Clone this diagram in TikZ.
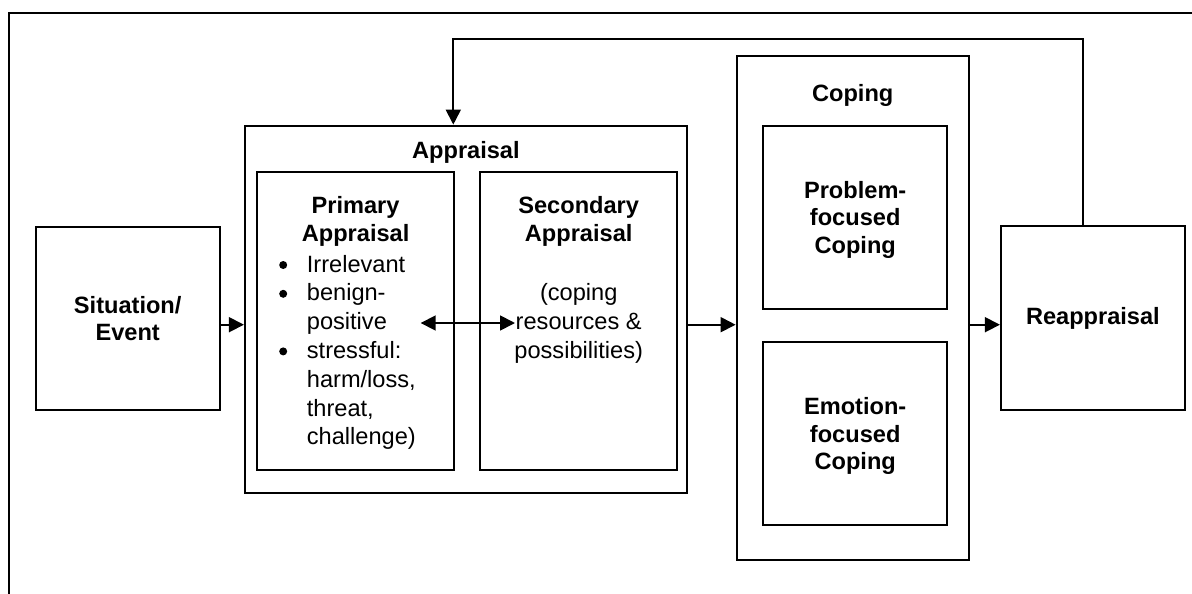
\documentclass[tikz,border=0pt]{standalone}
\usepackage{fontspec}
\setmainfont{Liberation Sans}
\usetikzlibrary{arrows.meta}
\newcommand\mylines[1]{\begin{tabular}[t]{@{}c@{}}#1\end{tabular}}
\newcommand\myleft[1]{\begin{tabular}[t]{@{}l@{}}#1\end{tabular}}
\newcommand\bul{\makebox[27.7pt][l]{\raisebox{3pt}{\tikz\fill (0,0) circle (4pt);}}}
\newcommand\ind{\hspace*{27.7pt}}
\begin{document}
\begin{tikzpicture}[x=1pt,y=-1pt,
  box/.style={draw, line width=2.2pt, inner sep=0pt},
  ttl/.style={inner sep=0pt, anchor=base, font=\bfseries\fontsize{23.6}{27.5}\selectfont},
  reg/.style={inner sep=0pt, anchor=base, font=\fontsize{23.6}{28.8}\selectfont},
  arr/.style={line width=1.8pt, -{Triangle[length=15pt,width=15pt]}},
  darr/.style={line width=1.8pt, {Triangle[length=15pt,width=15pt]}-{Triangle[length=15pt,width=15pt]}},
]
\fill[white] (0,0) rectangle (1192,594);
\useasboundingbox (0,0) rectangle (1192,594);
\draw[line width=1.8pt] (9,594) -- (9,12.7) -- (1192,12.7);

% boxes
\node[box, minimum width=184pt, minimum height=183.3pt] (sit) at (127.7,318.35) {};
\node[box, minimum width=441.7pt, minimum height=367.3pt] (app) at (465.85,309.35) {};
\node[box, minimum width=197.3pt, minimum height=298pt] (prim) at (355.65,320.7) {};
\node[box, minimum width=197.3pt, minimum height=298pt] (sec) at (578.65,320.7) {};
\node[box, minimum width=232pt, minimum height=503.7pt] (cop) at (852.7,307.85) {};
\node[box, minimum width=183.7pt, minimum height=183pt] (prob) at (855.15,217.5) {};
\node[box, minimum width=183.7pt, minimum height=183.3pt] (emo) at (855.15,433.35) {};
\node[box, minimum width=183.7pt, minimum height=184pt] (reap) at (1092.85,318) {};

% texts
\node[ttl] (sitt) at (127.7,313) {\mylines{Situation/\\Event}};
\node[ttl] (appt) at (465.9,158.5) {Appraisal};
\node[ttl] (primt) at (355.6,213.5) {\mylines{Primary\\Appraisal}};
\node[reg, anchor=base west] (priml) at (279,272) {\myleft{\bul Irrelevant\\\bul benign-\\\ind positive\\\bul stressful:\\\ind harm/loss,\\\ind threat,\\\ind challenge)}};
\node[ttl] (sect) at (578.7,213.5) {\mylines{Secondary\\Appraisal}};
\node[reg] (secl) at (578.7,300.8) {\mylines{(coping\\resources \&\\possibilities)}};
\node[ttl] (copt) at (852.7,101) {Coping};
\node[ttl] (probt) at (855.2,198.3) {\mylines{Problem-\\focused\\Coping}};
\node[ttl] (emot) at (855.2,414.7) {\mylines{Emotion-\\focused\\Coping}};
\node[ttl] (reapt) at (1092.9,324) {Reappraisal};

% connectors
\coordinate (rowy) at (0,324.7);
\draw[arr] (sit.east |- rowy) -- (app.west |- rowy);
\draw[arr] (app.east |- rowy) -- (cop.west |- rowy);
\draw[arr] (cop.east |- rowy) -- (reap.west |- rowy);
\coordinate (dl) at (420.7,323);
\coordinate (dr) at (515,323);
\draw[darr] (dl) -- (dr);
\coordinate (fbR) at (1082.7,39.3);
\coordinate (fbL) at (453.3,39.3);
\draw[arr] (reap.north -| fbR) -- (fbR) -- (fbL) -- (app.north -| fbL);
\end{tikzpicture}
\end{document}
